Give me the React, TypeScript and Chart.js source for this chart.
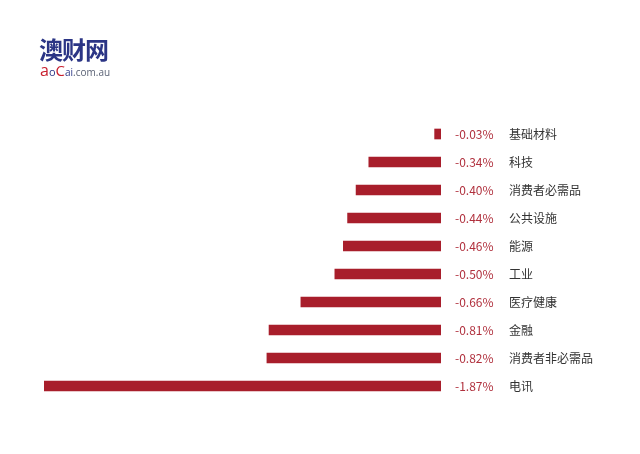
import React, { useEffect, useRef } from "react";
import { Chart, registerables } from "chart.js";

Chart.register(...registerables);

const categories = ["基础材料", "科技", "消费者必需品", "公共设施", "能源", "工业", "医疗健康", "金融", "消费者非必需品", "电讯"];
const values = [-0.03, -0.34, -0.40, -0.44, -0.46, -0.50, -0.66, -0.81, -0.82, -1.87];
const valueLabels = ["-0.03%", "-0.34%", "-0.40%", "-0.44%", "-0.46%", "-0.50%", "-0.66%", "-0.81%", "-0.82%", "-1.87%"];

const BAR = "#A81E2B";
const FONT = '"Noto Sans CJK SC", "Noto Sans", sans-serif';

export default function App() {
  const ref = useRef<HTMLCanvasElement | null>(null);

  useEffect(() => {
    if (!ref.current) return;
    const labelPlugin = {
      id: "rightLabels",
      afterDatasetsDraw(chart: any) {
        const ctx = chart.ctx;
        const meta = chart.getDatasetMeta(0);
        const right = chart.chartArea.right;
        ctx.save();
        ctx.font = `12px ${FONT}`;
        ctx.textBaseline = "middle";
        ctx.textAlign = "left";
        meta.data.forEach((el: any, i: number) => {
          ctx.fillStyle = "#B0303D";
          ctx.fillText(valueLabels[i], right + 14, el.y + 0.5);
          ctx.fillStyle = "#333333";
          ctx.fillText(categories[i], right + 68, el.y + 0.5);
        });
        ctx.restore();
      },
    };
    const chart = new Chart(ref.current, {
      type: "bar",
      data: {
        labels: categories,
        datasets: [
          {
            data: values,
            backgroundColor: BAR,
            barThickness: 10,
            borderWidth: 0,
          },
        ],
      },
      options: {
        indexAxis: "y",
        animation: false,
        responsive: false,
        maintainAspectRatio: false,
        layout: { padding: { left: 44, right: 199, top: 120, bottom: 54 } },
        plugins: { legend: { display: false }, tooltip: { enabled: false } },
        scales: {
          x: { display: false, min: -1.87, max: 0 },
          y: { display: false },
        },
      },
      plugins: [labelPlugin],
    });
    return () => chart.destroy();
  }, []);

  return (
    <div style={{ position: "absolute", left: 0, top: 0, width: 640, height: 454, background: "#fff" }}>
      <canvas ref={ref} width={640} height={454} style={{ position: "absolute", left: 0, top: 0 }} />
      <div
        style={{
          position: "absolute",
          left: 39,
          top: 34,
          fontFamily: FONT,
          fontWeight: 700,
          fontSize: 24,
          lineHeight: "30px",
          color: "#2B3585",
          letterSpacing: -1,
        }}
      >
        澳财网
      </div>
      <div
        style={{
          position: "absolute",
          left: 40,
          top: 61,
          fontFamily: '"Open Sans", "Noto Sans", sans-serif',
          fontSize: 10,
          lineHeight: "18px",
          color: "#5A6275",
          whiteSpace: "nowrap",
        }}
      >
        <span style={{ color: "#C8202E", fontSize: 16 }}>a</span>
        <span style={{ color: "#2B3585", fontSize: 11 }}>o</span>
        <span style={{ color: "#C8202E", fontSize: 15 }}>C</span>
        <span style={{ color: "#2B3585" }}>ai</span>
        <span>.com.au</span>
      </div>
    </div>
  );
}
